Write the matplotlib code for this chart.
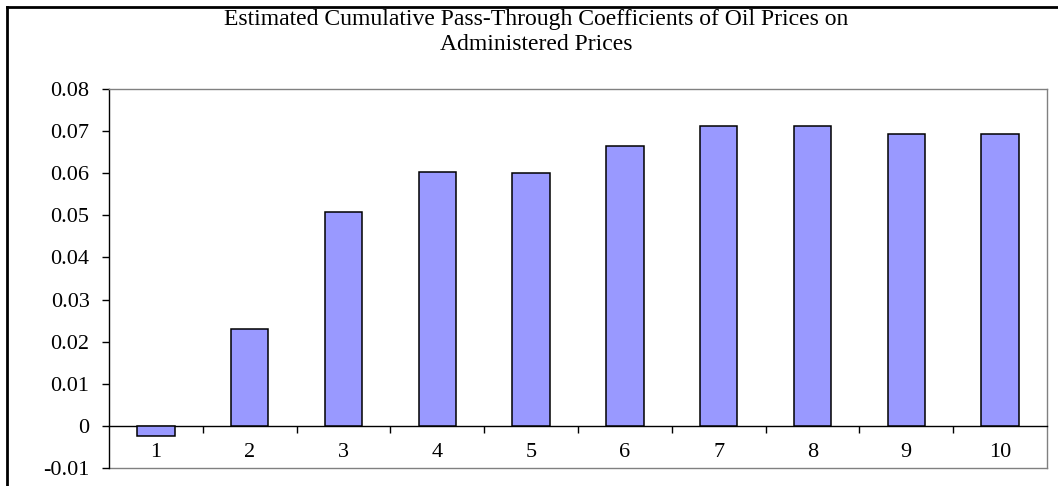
import matplotlib.pyplot as plt
from matplotlib.lines import Line2D
import numpy as np

# chart data
horizons = [1, 2, 3, 4, 5, 6, 7, 8, 9, 10]
coefs = [-0.0025, 0.0230, 0.0507, 0.0604, 0.0600, 0.0665, 0.0713, 0.0711, 0.0693, 0.0692]
y_ticks = [-0.01, 0.0, 0.01, 0.02, 0.03, 0.04, 0.05, 0.06, 0.07, 0.08]
y_labels = ["-0.01", "0", "0.01", "0.02", "0.03", "0.04", "0.05", "0.06", "0.07", "0.08"]
title_1 = "Estimated Cumulative Pass-Through Coefficients of Oil Prices on"
title_2 = "Administered Prices"

plt.rcParams['font.family'] = ['Liberation Serif', 'DejaVu Serif']
FS = 16

W, H = 1058, 486
fig = plt.figure(figsize=(W / 100, H / 100), dpi=100)

# plot area in pixels
left, right, top, bottom = 109, 1047, 89, 468
ax = fig.add_axes([left / W, 1 - bottom / H, (right - left) / W, (bottom - top) / H])

x = np.arange(len(horizons))
ax.bar(x, coefs, width=0.4, color='#9999FF', edgecolor='black', linewidth=1.1, zorder=3)

ax.set_xlim(-0.5, len(horizons) - 0.5)
ax.set_ylim(-0.01, 0.08)

# frame: grey plot area border, black value axis
for s in ['top', 'right']:
    ax.spines[s].set_color('#808080')
    ax.spines[s].set_linewidth(1.0)
ax.spines['left'].set_color('black')
ax.spines['left'].set_linewidth(1.0)

# category axis sits at zero
ax.spines['bottom'].set_position(('data', 0))
ax.spines['bottom'].set_color('black')
ax.spines['bottom'].set_linewidth(1.0)
ax.axhline(-0.01, color='#808080', linewidth=1.0, clip_on=False, zorder=1)

ax.set_yticks(y_ticks)
ax.set_yticklabels(y_labels, fontsize=FS)
ax.tick_params(axis='y', direction='out', length=5, width=1, pad=9)

ax.set_xticks(x)
ax.set_xticklabels([str(h) for h in horizons], fontsize=FS)
ax.set_xticks(np.arange(0.5, len(horizons) - 0.5, 1), minor=True)
ax.tick_params(axis='x', which='major', length=0, pad=12)
ax.tick_params(axis='x', which='minor', direction='out', length=5, width=1)

# title, two lines
fig.text(536 / W, 1 - 20 / H, title_1, ha='center', va='center', fontsize=17)
fig.text(536 / W, 1 - 44 / H, title_2, ha='center', va='center', fontsize=17)

# outer chart border (right and bottom are cut off in the reference)
fig.add_artist(Line2D([7 / W, 1.0], [1 - 7 / H, 1 - 7 / H], color='black', linewidth=2, transform=fig.transFigure))
fig.add_artist(Line2D([7 / W, 7 / W], [0.0, 1 - 7 / H], color='black', linewidth=2, transform=fig.transFigure))

fig.savefig('out.png', dpi=100)
